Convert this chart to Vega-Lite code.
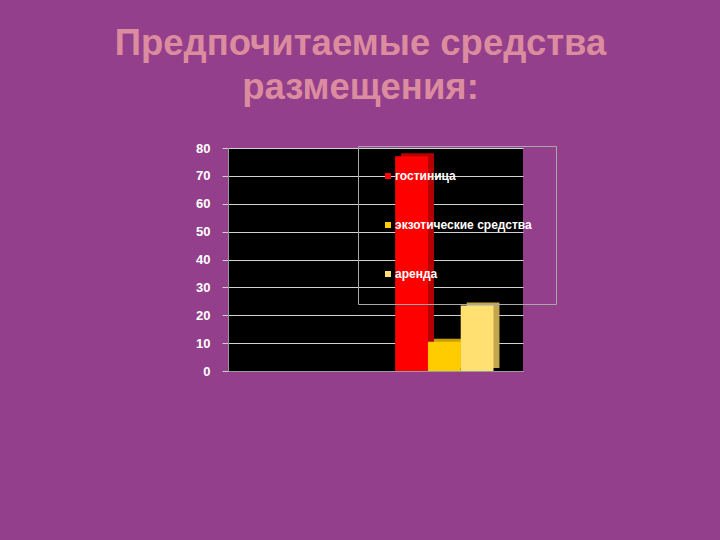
{
  "$schema": "https://vega.github.io/schema/vega-lite/v6.json",
  "width": 295,
  "height": 223,
  "autosize": {"type": "none"},
  "padding": {"left": 228, "top": 148, "right": 197, "bottom": 169},
  "background": "#933F8B",
  "title": {
    "text": ["Предпочитаемые средства", "размещения:"],
    "font": "Liberation Sans",
    "fontSize": 36.5,
    "fontWeight": "bold",
    "color": "#DC8C9F",
    "lineHeight": 44,
    "anchor": "middle",
    "dx": -15,
    "offset": 36
  },
  "data": {
    "values": [
      {"Ряд": "Ряд 1", "Тип": "гостиница", "Процент": 77},
      {"Ряд": "Ряд 1", "Тип": "экзотические средства", "Процент": 10.5},
      {"Ряд": "Ряд 1", "Тип": "аренда", "Процент": 23.5}
    ]
  },
  "encoding": {
    "x": {
      "field": "Ряд",
      "type": "nominal",
      "scale": {"paddingInner": 0, "paddingOuter": 1, "align": 0.85},
      "axis": {"labels": false, "ticks": false, "title": null, "domainColor": "#9A9A9A"}
    },
    "y": {
      "field": "Процент",
      "type": "quantitative",
      "scale": {"domain": [0, 80]},
      "axis": {
        "values": [0, 10, 20, 30, 40, 50, 60, 70, 80],
        "title": null,
        "labelFont": "Liberation Sans",
        "labelFontSize": 13,
        "labelFontWeight": "bold",
        "labelColor": "#FFFFFF",
        "labelPadding": 12,
        "tickColor": "#CFCFCF",
        "tickSize": 6,
        "domainColor": "#9A9A9A",
        "gridColor": "#D2D2D2",
        "gridWidth": 1
      }
    }
  },
  "layer": [
    {
      "mark": {"type": "bar", "yOffset": -3},
      "encoding": {
        "xOffset": {
          "field": "Тип",
          "type": "nominal",
          "sort": ["гостиница", "экзотические средства", "аренда"],
          "scale": {"range": [6, 104.3], "paddingInner": 0, "paddingOuter": 0}
        },
        "color": {
          "field": "Тип",
          "type": "nominal",
          "scale": {
            "domain": ["гостиница", "экзотические средства", "аренда"],
            "range": ["#B80000", "#C9A000", "#C2A74E"]
          },
          "legend": null
        }
      }
    },
    {
      "mark": {"type": "bar"},
      "encoding": {
        "xOffset": {
          "field": "Тип",
          "type": "nominal",
          "sort": ["гостиница", "экзотические средства", "аренда"],
          "scale": {"paddingInner": 0, "paddingOuter": 0}
        },
        "color": {
          "field": "Тип",
          "type": "nominal",
          "scale": {
            "domain": ["гостиница", "экзотические средства", "аренда"],
            "range": ["#FF0000", "#FFCC00", "#FFE070"]
          },
          "legend": {
            "title": null,
            "orient": "none",
            "legendX": 130,
            "legendY": -2,
            "padding": 24,
            "strokeColor": "#A8A8A8",
            "symbolType": "square",
            "symbolSize": 36,
            "symbolStrokeWidth": 0,
            "rowPadding": 37,
            "labelFont": "Liberation Sans",
            "labelFontSize": 12,
            "labelFontWeight": "bold",
            "labelColor": "#FFFFFF",
            "labelOffset": 1,
            "labelLimit": 300
          }
        }
      }
    }
  ],
  "resolve": {"scale": {"color": "independent", "xOffset": "independent"}},
  "config": {
    "view": {"fill": "#000000", "stroke": null}
  }
}
